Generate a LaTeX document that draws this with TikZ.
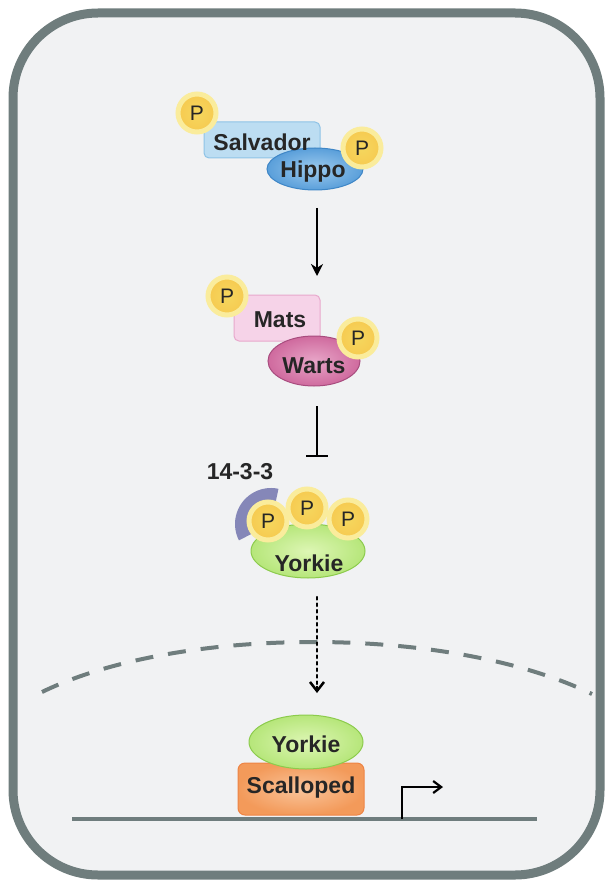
\documentclass[tikz,border=0pt]{standalone}
\usepackage{fontspec}
\setmainfont{Liberation Sans}
\usetikzlibrary{arrows.meta,shapes.geometric}
\definecolor{frame}{HTML}{6F7D7D}
\definecolor{bg}{HTML}{F1F2F3}
\definecolor{pfill}{HTML}{F5D75E}
\definecolor{pring}{HTML}{FAEC9C}
\definecolor{salfill}{HTML}{BCDDF2}
\definecolor{saldraw}{HTML}{8EC3E6}
\definecolor{hipin}{HTML}{9CCAEE}
\definecolor{hipout}{HTML}{5A9FDA}
\definecolor{hipdraw}{HTML}{3E86C6}
\definecolor{matfill}{HTML}{F6D3E8}
\definecolor{matdraw}{HTML}{E8A8CC}
\definecolor{warin}{HTML}{E8A6C8}
\definecolor{warout}{HTML}{CF6A9E}
\definecolor{wardraw}{HTML}{A84C7E}
\definecolor{yorin}{HTML}{DDF6B4}
\definecolor{yorout}{HTML}{B6E67A}
\definecolor{yordraw}{HTML}{8CCB4C}
\definecolor{scain}{HTML}{F9C49A}
\definecolor{scaout}{HTML}{F39A5A}
\definecolor{scadraw}{HTML}{EE8444}
\definecolor{crescent}{HTML}{8587B8}
\definecolor{dnacol}{HTML}{6F7D7D}
\tikzset{
  x=1pt,y=-1pt,
  lab/.style={font=\fontsize{23}{23}\selectfont\bfseries, text=black!85},
  pcirc/.style={circle, minimum size=38pt, inner sep=0pt, shading=radial, inner color=pfill, outer color=pfill!85!orange,
    draw=pring, line width=5pt},
  ptxt/.style={font=\fontsize{21}{21}\selectfont, text=black!85},
  boxsal/.style={rounded corners=5pt, fill=salfill, draw=saldraw, line width=1pt, minimum width=116pt, minimum height=36pt},
  ellhip/.style={ellipse, shading=radial, inner color=hipin, outer color=hipout, draw=hipdraw, line width=1pt, minimum width=96pt, minimum height=42pt, inner sep=0pt},
  boxmat/.style={rounded corners=5pt, fill=matfill, draw=matdraw, line width=1pt, minimum width=86pt, minimum height=46pt},
  ellwar/.style={ellipse, shading=radial, inner color=warin, outer color=warout, draw=wardraw, line width=1pt, minimum width=92pt, minimum height=50pt, inner sep=0pt},
  ellyor/.style={ellipse, shading=radial, inner color=yorin, outer color=yorout, draw=yordraw, line width=1pt, minimum width=114pt, minimum height=54pt, inner sep=0pt},
  boxsca/.style={rounded corners=7pt, shading=radial, inner color=scain, outer color=scaout, draw=scadraw, line width=1pt, minimum width=126pt, minimum height=52pt},
  arr/.style={line width=2.2pt, -{Stealth[length=12pt,width=12pt]}},
}
\begin{document}
\begin{tikzpicture}
\useasboundingbox (0,0) rectangle (608,882);
% cell
\draw[frame, line width=9pt, fill=bg, rounded corners=85pt] (13,13) rectangle (600,875);
% nuclear envelope
\draw[frame, line width=4pt, dash pattern=on 18pt off 15pt] (42,692) .. controls (180,625) and (450,625) .. (592,694);
% DNA
\draw[dnacol, line width=3.5pt] (72,819) -- (537,819);

% Salvador / Hippo shapes
\node[boxsal] (sal) at (262,140) {};
\node[ellhip] (hip) at (315,169) {};
\node[pcirc] (p1) at (197,113) {};
\node[pcirc] (p2) at (362,148) {};
% labels
\node[lab] (saltxt) at (262,142) {Salvador};
\node[lab] (hiptxt) at (313,172) {Hippo};
\node[ptxt] at (p1) {P};
\node[ptxt] at (p2) {P};

% arrow 1
\coordinate (a1s) at (317,208);
\coordinate (a1e) at (317,276);
\draw[arr] (a1s) -- (a1e);

% Mats / Warts
\node[boxmat] (mat) at (277,318) {};
\node[ellwar] (war) at (314,361) {};
\node[pcirc] (p3) at (227,296) {};
\node[pcirc] (p4) at (358,338) {};
\node[lab] (mattxt) at (280,320) {Mats};
\node[lab] (wartxt) at (314,366) {Warts};
\node[ptxt] at (p3) {P};
\node[ptxt] at (p4) {P};

% inhibition
\coordinate (i1s) at (317,406);
\coordinate (i1e) at (317,456);
\draw[line width=2.2pt] (i1s) -- (i1e);
\draw[line width=2.2pt] (306,456) -- (328,456);

% 14-3-3 and Yorkie
\node[lab] (l1433) at (240,472) {14-3-3};
\fill[crescent] (271,524) ++(-78:36) arc[start angle=-78, end angle=-207, radius=36]
  -- ++(-27:17) arc[start angle=-207, end angle=-78, radius=19] -- cycle;
\node[ellyor] (yor1) at (308,551) {};
\node[pcirc] (p5) at (268,521) {};
\node[pcirc] (p6) at (307,508) {};
\node[pcirc] (p7) at (348,519) {};
\node[lab] (yor1txt) at (309,563) {Yorkie};
\node[ptxt] at (p5) {P};
\node[ptxt] at (p6) {P};
\node[ptxt] at (p7) {P};

% dotted translocation arrow
\coordinate (d1s) at (317,597);
\coordinate (d1e) at (317,693);
\draw[line width=2.5pt, dash pattern=on 2.5pt off 4pt, line cap=round] (d1s) -- (317,686);
\draw[line width=2.5pt, -{Straight Barb[length=9pt,width=14pt]}] (317,686) -- (d1e);

% nuclear Yorkie / Scalloped
\node[boxsca] (sca) at (301,789) {};
\node[ellyor] (yor2) at (306,742) {};
\node[lab] (scatxt) at (301,788) {Scalloped};
\node[lab] (yor2txt) at (306,744) {Yorkie};

% promoter arrow
\coordinate (prs) at (402,819);
\coordinate (pre) at (443,787);
\draw[line width=2.2pt, -{Straight Barb[length=8pt,width=12pt]}] (prs) |- (pre);
\end{tikzpicture}
\end{document}
